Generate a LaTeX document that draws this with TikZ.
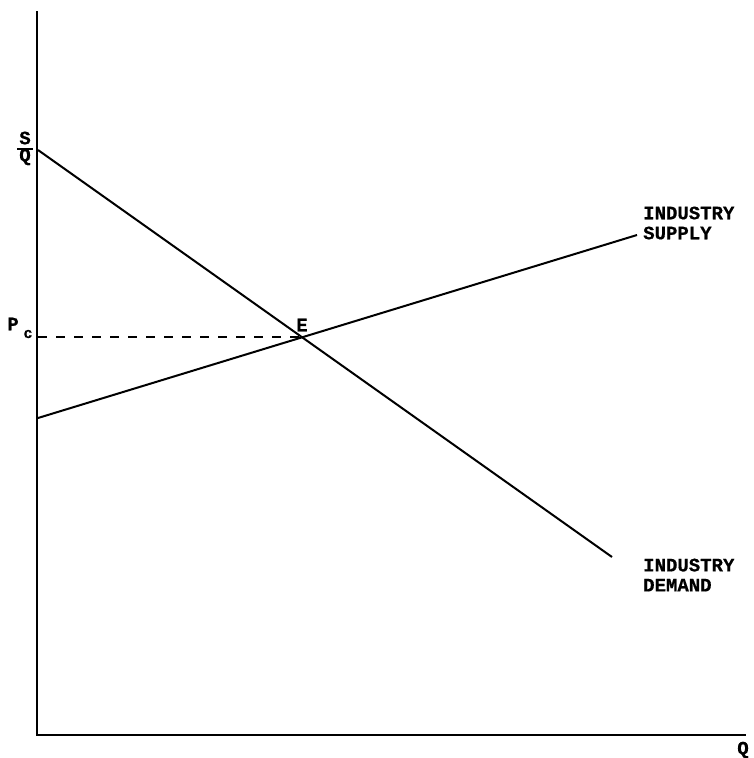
\documentclass[tikz,border=0pt]{standalone}
\usepackage{fontspec}
\newfontfamily\lblfont{Liberation Mono Bold}[FakeBold=0.6]
\begin{document}
\begin{tikzpicture}[x=1pt,y=-1pt,
  lbl/.style={font=\lblfont\fontsize{19}{20}\selectfont, inner sep=0pt},
  axis/.style={line width=2.2pt},
  curve/.style={line width=2pt},
  guide/.style={line width=1.8pt, dash pattern=on 9pt off 9pt}]
\useasboundingbox (0,0) rectangle (753,758);
\coordinate (O) at (37,735);
\coordinate (ytop) at (37,11);
\coordinate (xend) at (746,735);
\draw[axis] (ytop) -- (O) -- (xend);
\coordinate (d1) at (38,150);
\coordinate (d2) at (612,557);
\coordinate (s1) at (38,418);
\coordinate (s2) at (637,235);
\draw[curve] (d1) -- (d2);
\draw[curve] (s1) -- (s2);
\coordinate (E) at (302,337);
\coordinate (pc) at (38,337);
\draw[guide] (pc) -- (E);
\node[lbl] (Elab) at (302,325) {E};
\node[lbl] (S) at (25,138) {S};
\node[lbl] (Qy) at (25,157) {Q};
\draw[line width=1.4pt] (17,149) -- (33,149);
\node[lbl] (P) at (13,324) {P};
\node[lbl, font=\lblfont\fontsize{15}{16}\selectfont] (c) at (28,334) {c};
\node[lbl] (Qx) at (743,750) {Q};
\node[lbl, anchor=west, align=left] (sup) at (643,223) {INDUSTRY\\SUPPLY};
\node[lbl, anchor=west, align=left] (dem) at (643,575) {INDUSTRY\\DEMAND};
\end{tikzpicture}
\end{document}
